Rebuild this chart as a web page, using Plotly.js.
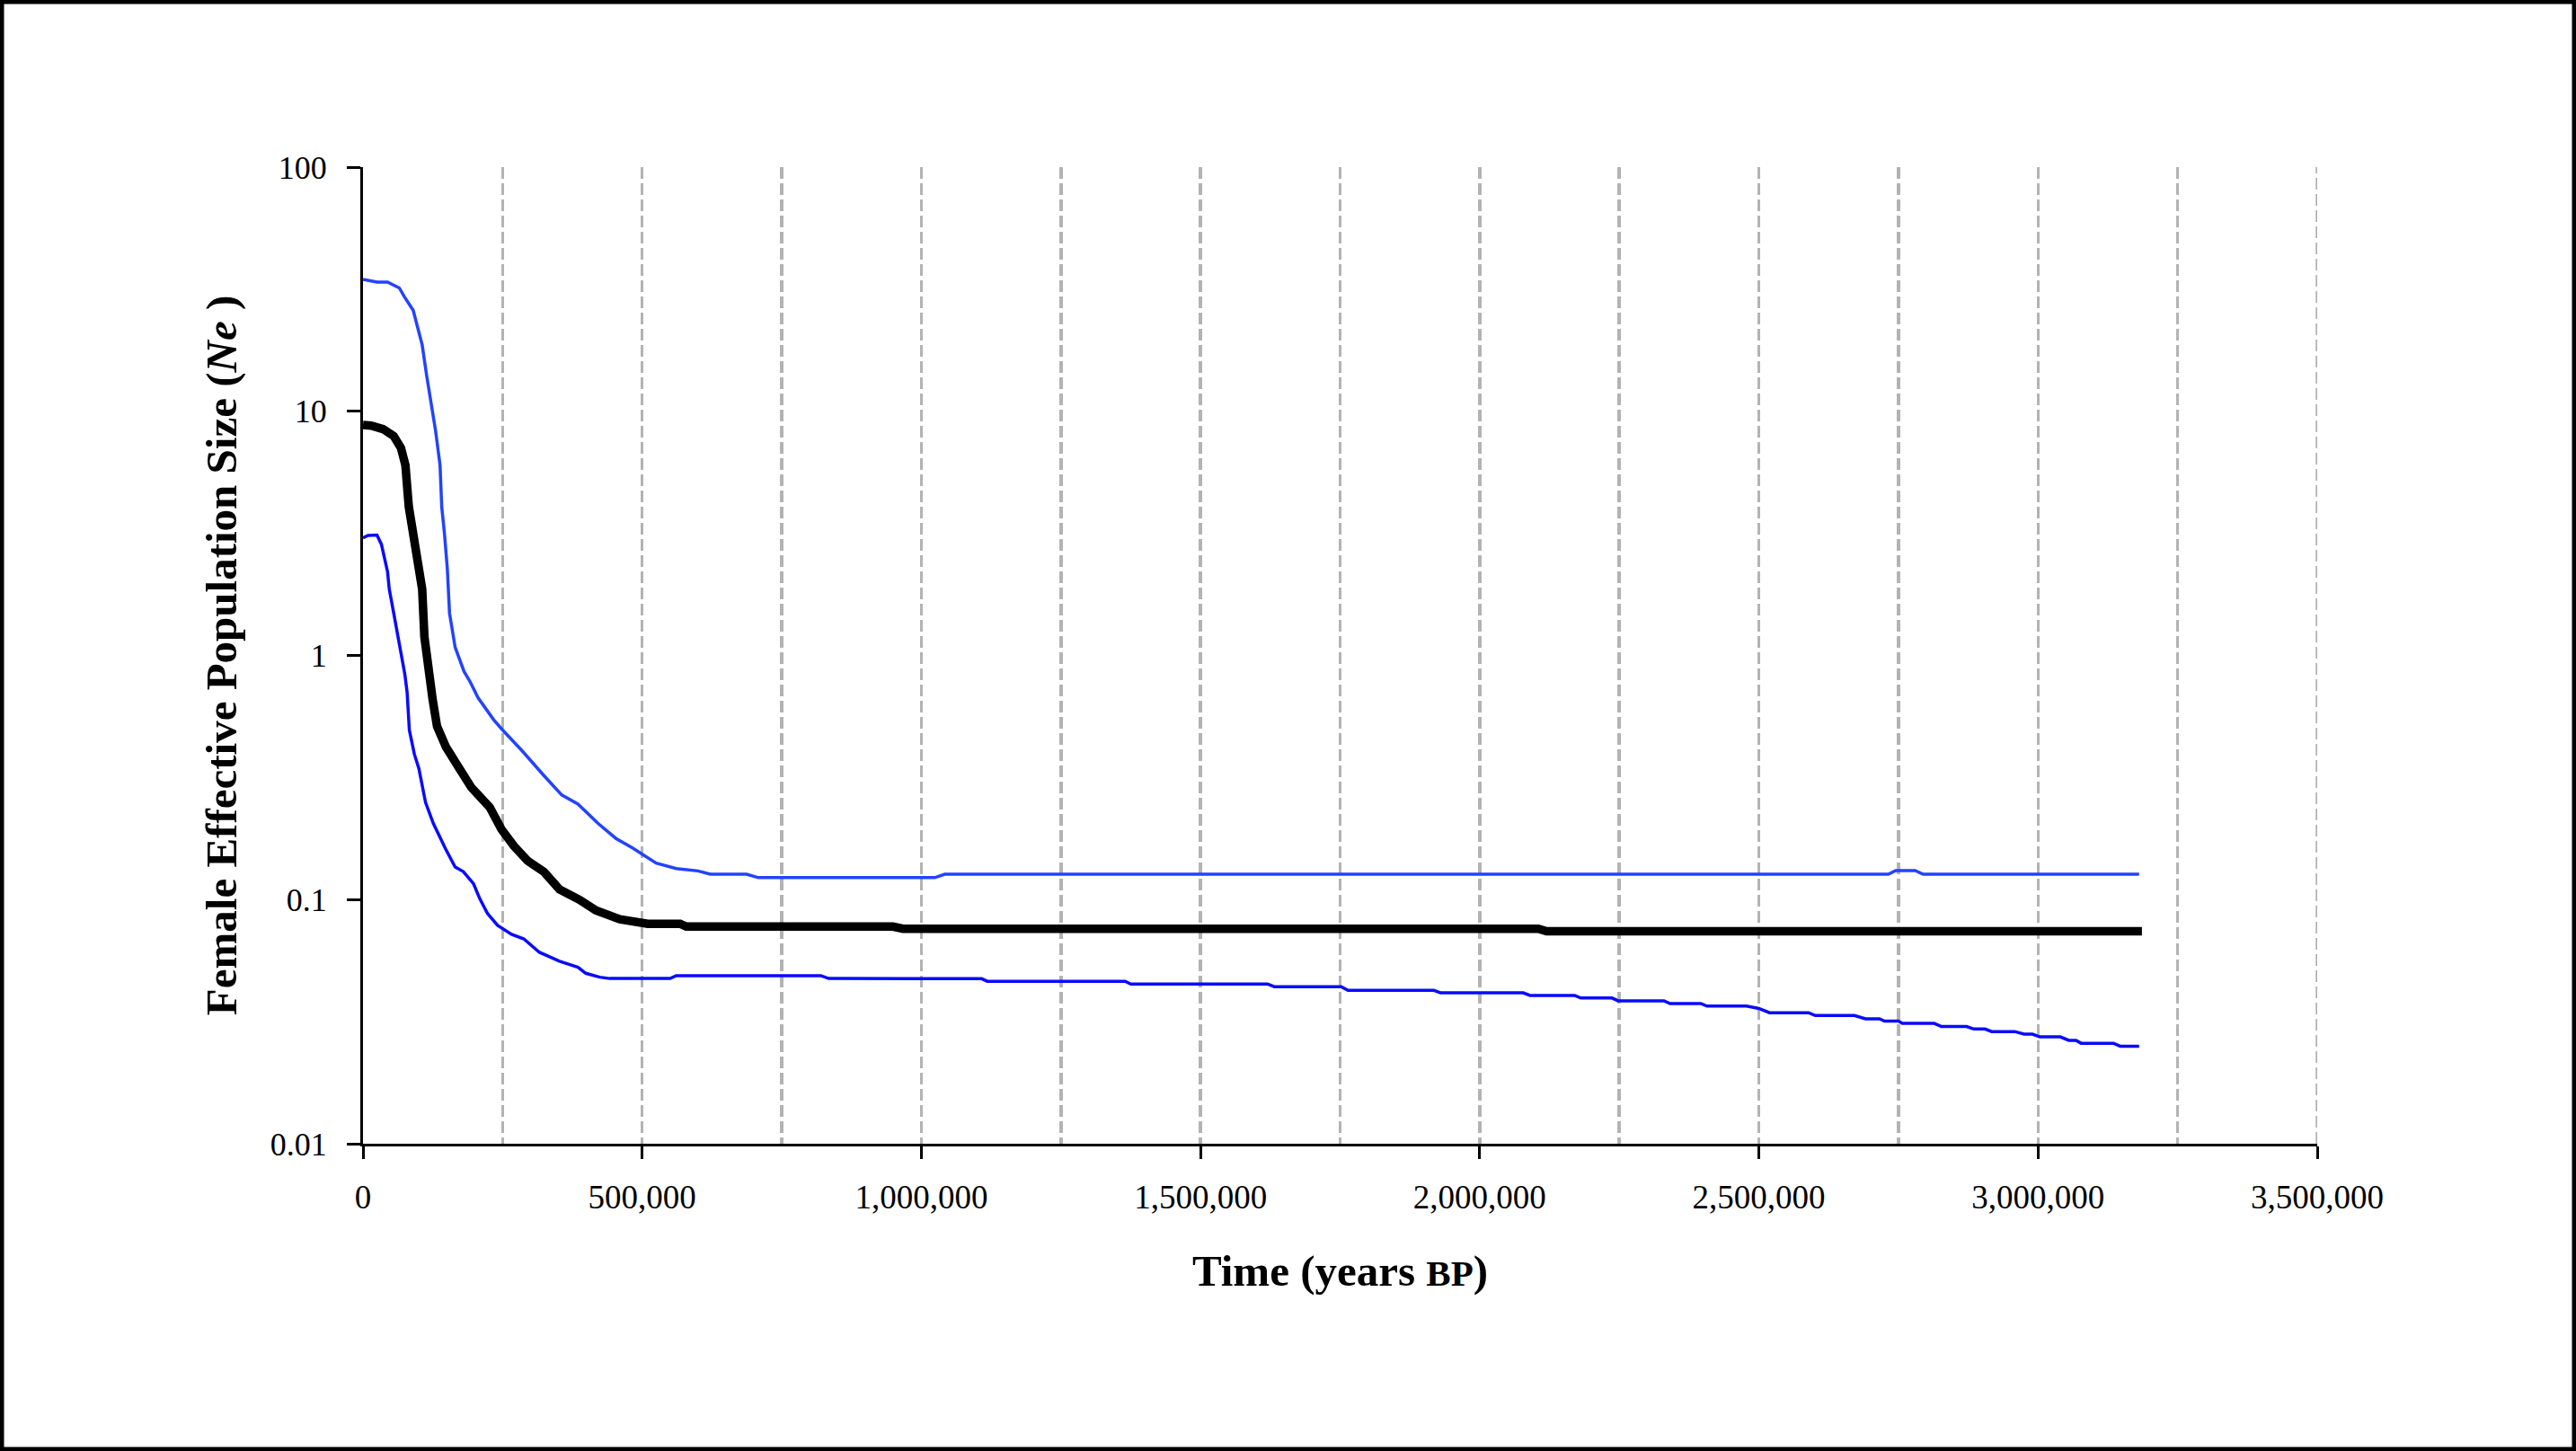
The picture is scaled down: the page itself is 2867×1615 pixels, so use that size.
<!DOCTYPE html>
<html>
<head>
<meta charset="utf-8">
<script src="https://cdn.plot.ly/plotly-3.0.1.min.js"></script>
<style>
html,body{margin:0;padding:0;background:#fff;}
#chart{width:2867px;height:1615px;}
</style>
</head>
<body>
<div id="chart"></div>
<script>
// Upper 95% bound
const upperYears = [0,25000,44000,65000,74000,90000,98000,106000,114000,122000,130000,138000,141000,146000,151000,155000,165000,181000,192000,206000,234000,250000,284000,324000,356000,385000,421000,453000,482000,525000,561000,600000,622000,687000,708000,1024000,1042000,2732000,2745000,2780000,2794000,3181000];
const upperNe = [34.7,33.8,33.8,32.0,29.5,25.9,22.0,18.7,14.0,10.8,8.32,6.01,4.07,3.14,2.27,1.49,1.08,0.859,0.779,0.671,0.545,0.495,0.409,0.322,0.268,0.246,0.205,0.178,0.163,0.141,0.134,0.131,0.127,0.127,0.123,0.123,0.127,0.127,0.1315,0.1315,0.127,0.127];

// Median
const medianYears = [0,14500,36000,55000,68000,76000,82000,90000,98000,106000,110000,116500,124600,132600,148700,167000,194000,227000,248000,270000,295000,324000,352000,388000,417000,460000,496000,510000,568000,579000,949000,967000,2105000,2120000,3186000];
const medianNe = [8.79,8.73,8.45,7.92,7.07,6.01,4.07,3.14,2.43,1.87,1.19,0.860,0.663,0.512,0.421,0.361,0.288,0.239,0.194,0.166,0.144,0.130,0.110,0.0997,0.0903,0.0830,0.0811,0.0796,0.0796,0.0775,0.0775,0.0760,0.0760,0.0742,0.0742];

// Lower 95% bound
const lowerYears = [0,9000,25000,33000,44000,47000,55000,65500,75000,79000,83000,92000,100000,112000,126000,148000,165000,180000,198000,209000,223000,241000,266000,288000,316000,352000,385000,399000,424000,442000,550000,561000,820000,834000,1108000,1118000,1365000,1375000,1620000,1632000,1752000,1764000,1918000,1930000,2078000,2090000,2170000,2181000,2237000,2248000,2330000,2341000,2396000,2407000,2478000,2500000,2519000,2589000,2601000,2671000,2691000,2716000,2725000,2750000,2757000,2814000,2827000,2872000,2885000,2905000,2917000,2958000,2975000,2990000,3003000,3040000,3055000,3068000,3077000,3135000,3147000,3181000];
const lowerNe = [3.03,3.10,3.11,2.85,2.20,1.87,1.49,1.08,0.835,0.707,0.495,0.394,0.345,0.250,0.205,0.161,0.136,0.130,0.116,0.101,0.0877,0.0784,0.0721,0.0690,0.0608,0.0559,0.0528,0.0499,0.0481,0.0475,0.0475,0.0488,0.0488,0.0475,0.0474,0.0463,0.0463,0.0451,0.0451,0.0440,0.0440,0.0425,0.0425,0.0415,0.0415,0.0405,0.0405,0.0395,0.0395,0.0385,0.0385,0.0375,0.0375,0.0366,0.0366,0.0358,0.0344,0.0344,0.0335,0.0335,0.0325,0.0325,0.0318,0.0318,0.0311,0.0311,0.0302,0.0302,0.0295,0.0295,0.0288,0.0288,0.0281,0.0281,0.0274,0.0274,0.0265,0.0265,0.0258,0.0258,0.0251,0.0251];

const xRange = [0, 3500000];
const xMajorStep = 500000;
const xGridStep = 250000;
const yTickVals = [0.01, 0.1, 1, 10, 100];
const yTickText = ['0.01', '0.1', '1', '10', '100'];
const xTitle = 'Time (years <span style="font-size:41px">BP</span>)';
const yTitle = 'Female Effective Population Size (<i>Ne</i> )';

const W = 2867, H = 1615;
const M = {l: 404, r: 288, t: 186, b: 342};
const pw = W - M.l - M.r, ph = H - M.t - M.b;
const bw = 4.5;
const px = v => (v - M.l) / pw;
const py = v => (H - M.b - v) / ph;

const serif = 'Liberation Serif, Times New Roman, serif';
const gridStyle = {color: '#b3b3b3', dash: '13px,5px', width: 3.5};

const traces = [
  {x: upperYears, y: upperNe, type: 'scatter', mode: 'lines', line: {color: '#2343ff', width: 3.5}},
  {x: lowerYears, y: lowerNe, type: 'scatter', mode: 'lines', line: {color: '#0a0aff', width: 3.5}},
  {x: medianYears, y: medianNe, type: 'scatter', mode: 'lines', line: {color: '#000000', width: 9.5}}
];

const layout = {
  width: W, height: H, autosize: false,
  margin: M,
  paper_bgcolor: '#ffffff', plot_bgcolor: '#ffffff',
  showlegend: false, hovermode: false,
  font: {family: serif, color: '#000'},
  xaxis: {
    range: xRange, tick0: 0, dtick: xMajorStep, tickformat: ',d',
    showline: true, linecolor: '#000', linewidth: 3,
    ticks: 'outside', ticklen: 14, tickwidth: 3, tickcolor: '#000',
    tickfont: {family: serif, size: 37, color: '#000'},
    ticklabelstandoff: 11,
    showgrid: true, gridcolor: gridStyle.color, griddash: gridStyle.dash, gridwidth: gridStyle.width,
    minor: {dtick: xGridStep, tick0: 0, showgrid: true, gridcolor: gridStyle.color, griddash: gridStyle.dash, gridwidth: gridStyle.width, ticks: ''},
    zeroline: false,
    title: {text: xTitle, font: {family: serif, size: 49, color: '#000', weight: 'bold'}, standoff: 45}
  },
  yaxis: {
    type: 'log', range: [-2, 2],
    tickvals: yTickVals, ticktext: yTickText,
    showline: true, linecolor: '#000', linewidth: 3,
    ticks: 'outside', ticklen: 15, tickwidth: 3, tickcolor: '#000',
    tickfont: {family: serif, size: 36, color: '#000'},
    ticklabelstandoff: 15,
    showgrid: false, zeroline: false,
    title: {text: yTitle, font: {family: serif, size: 49, color: '#000', weight: 'bold'}, standoff: 22}
  },
  shapes: [
    {
      // gridline at the far end of the x range (Plotly omits the edge gridline)
      type: 'line', xref: 'x', yref: 'paper', layer: 'below',
      x0: xRange[1], x1: xRange[1], y0: 0, y1: 1,
      line: {color: gridStyle.color, dash: gridStyle.dash, width: gridStyle.width}
    },
    {
      type: 'rect', xref: 'paper', yref: 'paper', layer: 'above',
      x0: px(bw / 2), x1: px(W - bw / 2), y0: py(H - bw / 2), y1: py(bw / 2),
      line: {color: '#000', width: bw}, fillcolor: 'rgba(0,0,0,0)'
    }
  ]
};

Plotly.newPlot('chart', traces, layout, {staticPlot: true, displayModeBar: false});
</script>
</body>
</html>
